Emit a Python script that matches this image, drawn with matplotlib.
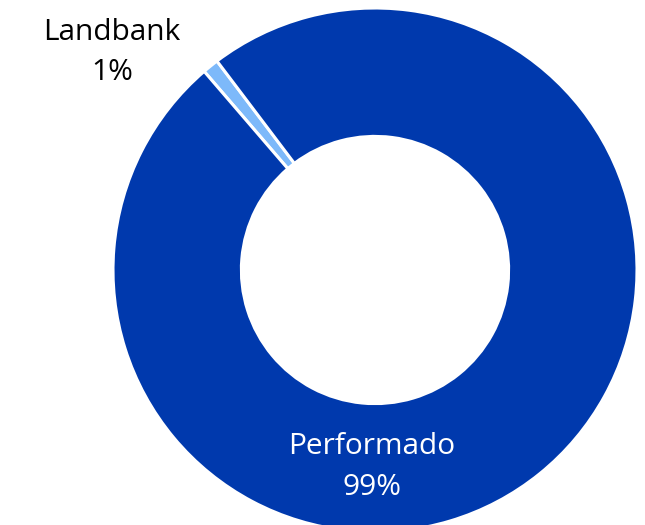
import matplotlib
matplotlib.use("Agg")
import matplotlib.pyplot as plt

categories = ["Landbank", "Performado"]
values = [1, 99]
pct_labels = ["1%", "99%"]
colors = ["#7DB9FA", "#0039AD"]

plt.rcParams['font.family'] = ['Open Sans', 'DejaVu Sans']

fig = plt.figure(figsize=(6.45, 5.25), dpi=100)
ax = fig.add_axes([113/645, -7/525, 524/645, 524/525])
ax.pie(values, colors=colors, startangle=127.1, counterclock=True,
       wedgeprops=dict(width=0.49, edgecolor="white", linewidth=2.2))
ax.set_xlim(-1, 1)
ax.set_ylim(-1, 1)
ax.set_aspect("equal")
ax.axis("off")

ax.text(-1.004, 0.83, f"{categories[0]}\n{pct_labels[0]}", ha="center", va="center",
        fontsize=21.5, color="black", linespacing=1.5, clip_on=False)
ax.text(-0.011, -0.752, f"{categories[1]}\n{pct_labels[1]}", ha="center", va="center",
        fontsize=21.5, color="white", linespacing=1.55)

fig.savefig("out.png", dpi=100)
